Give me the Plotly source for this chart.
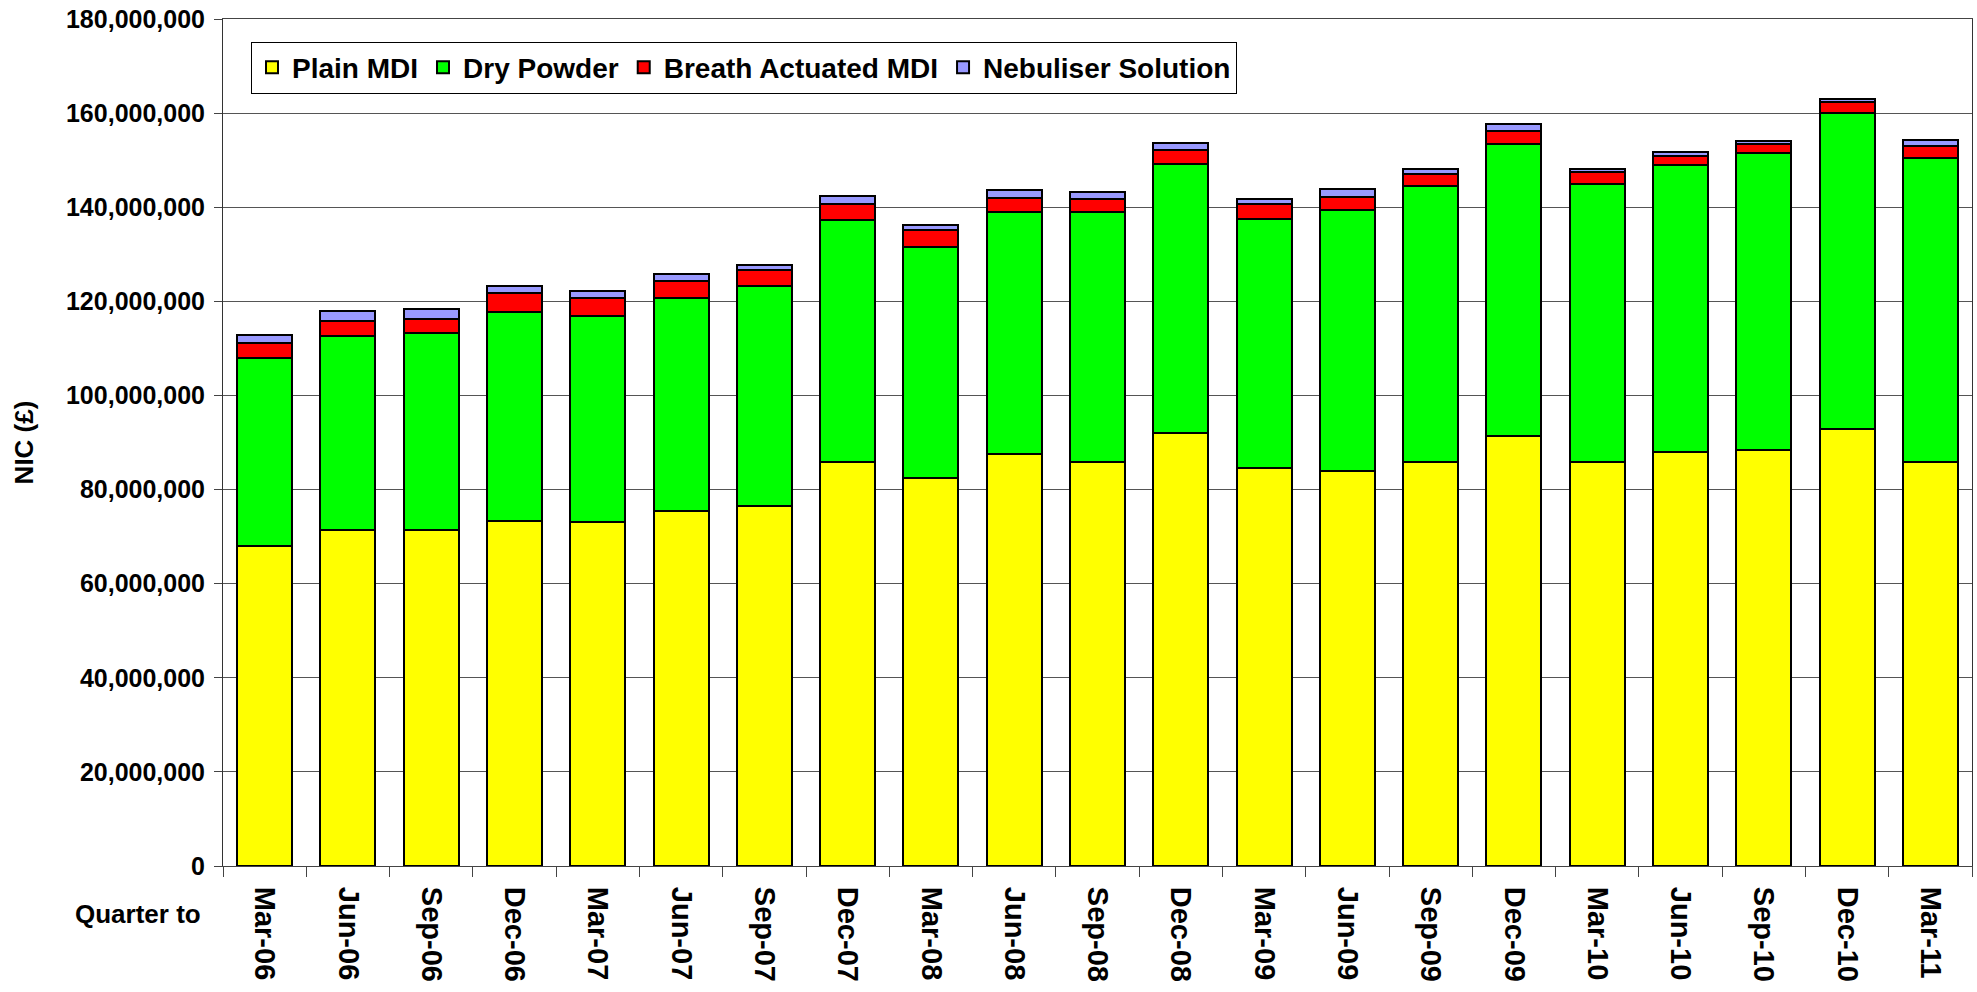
import plotly.graph_objects as go

quarters = ["Mar-06", "Jun-06", "Sep-06", "Dec-06", "Mar-07", "Jun-07", "Sep-07",
            "Dec-07", "Mar-08", "Jun-08", "Sep-08", "Dec-08", "Mar-09", "Jun-09",
            "Sep-09", "Dec-09", "Mar-10", "Jun-10", "Sep-10", "Dec-10", "Mar-11"]

# values in millions of pounds (NIC)
plain_mdi = [67.9, 71.5, 71.5, 73.4, 73.0, 75.5, 76.5, 85.9, 82.4, 87.5, 85.9,
             92.0, 84.5, 84.0, 85.9, 91.4, 85.9, 87.9, 88.4, 92.9, 85.9]
dry_powder = [40.1, 41.2, 41.7, 44.3, 43.8, 45.2, 46.7, 51.3, 49.2, 51.5, 53.1,
              57.1, 53.1, 55.5, 58.6, 62.1, 59.1, 61.1, 63.1, 67.1, 64.6]
breath_actuated = [3.2, 3.1, 3.1, 4.0, 3.9, 3.6, 3.5, 3.4, 3.6, 3.0, 2.7,
                   3.0, 3.0, 2.6, 2.5, 2.6, 2.4, 1.9, 1.9, 2.4, 2.6]
nebuliser = [1.7, 2.1, 2.1, 1.6, 1.6, 1.5, 1.1, 1.7, 1.0, 1.7, 1.6,
             1.6, 1.2, 1.7, 1.2, 1.6, 0.7, 0.8, 0.7, 0.7, 1.1]

series = [
    ("Plain MDI", plain_mdi, "#FFFF00"),
    ("Dry Powder", dry_powder, "#00FF00"),
    ("Breath Actuated MDI", breath_actuated, "#FF0000"),
    ("Nebuliser Solution", nebuliser, "#9999FF"),
]

FONT = "Liberation Sans, Arial, sans-serif"

fig = go.Figure()
for name, vals, color in series:
    fig.add_trace(go.Bar(
        x=quarters, y=[v * 1e6 for v in vals], name=name,
        marker=dict(color=color, line=dict(color="black", width=2)),
    ))

W, H = 1977, 992
plot_left, plot_right, plot_top, plot_bottom = 223, 1972, 19, 866
L, T = plot_left, plot_top
R, B = W - plot_right, H - plot_bottom
pw = W - L - R
ph = H - T - B


def px_x(page_x):
    return (page_x - plot_left) / pw


def px_y(page_y):
    return (plot_bottom - page_y) / ph


fig.update_layout(
    width=W, height=H,
    barmode="stack", bargap=0.34,
    paper_bgcolor="white", plot_bgcolor="white",
    margin=dict(l=L, r=R, t=T, b=B, autoexpand=False),
    font=dict(family=FONT, size=24, color="black", weight="bold"),
    showlegend=True,
    legend=dict(
        orientation="h", x=px_x(251), y=px_y(67.5),
        xanchor="left", yanchor="middle",
        bordercolor="black", borderwidth=1, bgcolor="white",
        font=dict(family=FONT, size=28, color="black", weight="bold"),
        traceorder="normal", itemwidth=30,
    ),
    xaxis=dict(
        type="category", tickangle=90,
        ticks="outside", ticklen=10, tickcolor="#444", tickson="boundaries",
        ticklabelstandoff=14, ticklabeloverflow="allow",
        showline=True, linecolor="#444", linewidth=1, mirror=True,
        showgrid=False,
        tickfont=dict(family=FONT, size=29, color="black", weight="bold"),
    ),
    yaxis=dict(
        range=[0, 180e6], dtick=20e6, tickformat=",",
        ticks="outside", ticklen=8, tickcolor="#444",
        ticklabelstandoff=4, ticklabeloverflow="allow",
        showline=True, linecolor="#333", linewidth=1, mirror=True,
        showgrid=True, gridcolor="#555", gridwidth=1,
        zeroline=False,
        tickfont=dict(family=FONT, size=25, color="black", weight="bold"),
        title=dict(text="NIC (£)", standoff=24,
                   font=dict(family=FONT, size=26, color="black", weight="bold")),
    ),
    annotations=[dict(
        text="Quarter to", xref="paper", yref="paper",
        x=px_x(137.5), y=px_y(914),
        xanchor="center", yanchor="middle", showarrow=False,
        font=dict(family=FONT, size=26, color="black", weight="bold"),
    )],
)

fig.write_html(
    "out.html",
    config={"displayModeBar": False},
    post_script="document.body.style.margin='0';document.body.style.overflow='hidden';",
)
